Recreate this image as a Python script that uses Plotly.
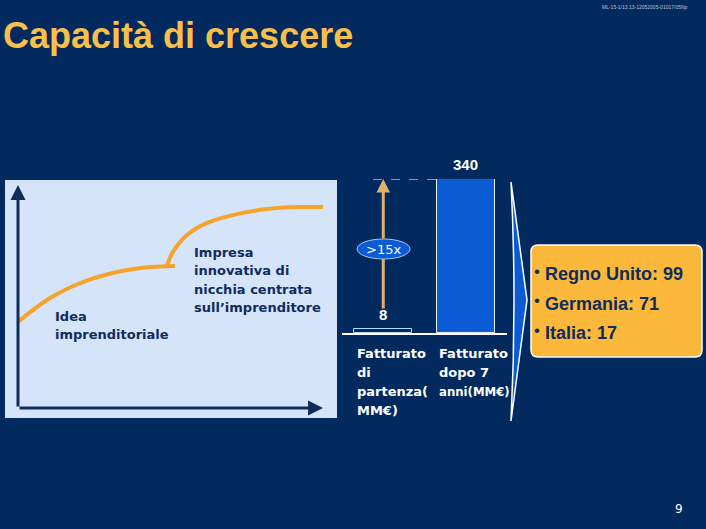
import plotly.graph_objects as go

W, H = 706, 529

# ---------------- data ----------------
bar_categories = ["partenza", "dopo 7 anni"]
bar_values = [8, 340]
bar_value_labels = ["8", "340"]
bar_axis_labels = ["Fatturato<br>di<br>partenza(<br>MM€)", "Fatturato<br>dopo 7<br>anni(MM€)"]
growth_label = ">15x"

curve1_x = [0, 10.5, 21.3, 32.5, 43.3, 51.5]
curve1_y = [38.6, 49.3, 56.5, 61.0, 63.2, 63.7]
curve2_x = [48.9, 50.8, 55.4, 62.0, 70.5, 81.6, 92.5, 100]
curve2_y = [64.1, 70.0, 77.6, 83.0, 86.5, 89.2, 90.1, 90.1]
stage_labels = [["Idea", "imprenditoriale"],
                ["Impresa", "innovativa di", "nicchia centrata", "sull\u2019imprenditore"]]

countries = ["Regno Unito", "Germania", "Italia"]
country_values = [99, 71, 17]

title_text = "Capacità di crescere"
doc_code = "ML-15-1/13.13-12052005-01017/05Np"
page_number = "9"

# ---------------- style ----------------
NAVY = "#022a5e"
PANEL = "#d6e4fa"
DARK = "#0e2c5c"
ORANGE = "#f5a32a"
BLUE = "#0b5bd5"
BOX = "#fbb83b"


def px(x):
    return x / W


def py(y):
    return 1 - y / H


fig = go.Figure()

# bars (middle)
fig.add_trace(go.Bar(
    x=[0, 1], y=bar_values, width=0.7,
    marker=dict(color=[NAVY, BLUE], line=dict(color=["#b8dcef", "#e8f0ff"], width=1)),
    xaxis="x", yaxis="y", showlegend=False, hoverinfo="skip",
))

# curves (left panel)
fig.add_trace(go.Scatter(x=curve1_x, y=curve1_y, mode="lines", line=dict(color=ORANGE, width=4, shape="spline"),
                         xaxis="x2", yaxis="y2", showlegend=False, hoverinfo="skip"))
fig.add_trace(go.Scatter(x=curve2_x, y=curve2_y, mode="lines", line=dict(color=ORANGE, width=4, shape="spline"),
                         xaxis="x2", yaxis="y2", showlegend=False, hoverinfo="skip"))

shapes = []
annotations = []

# left panel background
shapes.append(dict(type="rect", xref="paper", yref="paper", x0=px(5), x1=px(337), y0=py(418), y1=py(180),
                   fillcolor=PANEL, line=dict(width=0), layer="below"))

# panel axes arrows
annotations.append(dict(x=0, y=100, xref="x2", yref="y2", ax=0, ay=0, axref="x2", ayref="y2", text="",
                        showarrow=True, arrowhead=2, arrowsize=1, arrowwidth=3, arrowcolor=DARK))
annotations.append(dict(x=100, y=0, xref="x2", yref="y2", ax=0, ay=0, axref="x2", ayref="y2", text="",
                        showarrow=True, arrowhead=2, arrowsize=1, arrowwidth=3, arrowcolor=DARK))

# stage labels
stage_pos = [(53, 316), (192, 252)]
for lines, (sx, sy) in zip(stage_labels, stage_pos):
    for i, line in enumerate(lines):
        annotations.append(dict(x=px(sx), y=py(sy + i * 18.6), xref="paper", yref="paper", text=line,
                                showarrow=False, xanchor="left", yanchor="middle",
                                font=dict(family="DejaVu Sans", size=13, color=DARK, weight="bold")))

# bar value labels
for i, (v, lab) in enumerate(zip(bar_values, bar_value_labels)):
    annotations.append(dict(x=i, y=v, xref="x", yref="y", text=lab, showarrow=False, yanchor="bottom", yshift=4,
                            font=dict(family="Liberation Sans", size=15, color="white", weight="bold")))

# bar category labels
for i, lab in enumerate(bar_axis_labels):
    lines = lab.split("<br>")
    lx = [355, 437][i]
    for j, line in enumerate(lines):
        fam = "DejaVu Sans Condensed, DejaVu Sans" if (i == 1 and j == len(lines) - 1) else "DejaVu Sans"
        annotations.append(dict(x=px(lx), y=py(353 + j * 19), xref="paper", yref="paper", text=line,
                                showarrow=False, xanchor="left", yanchor="middle",
                                font=dict(family=fam, size=13, color="white", weight="bold")))

# dashed line at top of big bar
shapes.append(dict(type="line", xref="paper", yref="y", x0=px(373), x1=px(437), y0=bar_values[1], y1=bar_values[1],
                   line=dict(color="white", width=1, dash="dash")))

# growth arrow (split around ellipse)
annotations.append(dict(x=0, y=bar_values[1], xref="x", yref="y", ax=0, ay=61, text="", showarrow=True,
                        arrowhead=2, arrowsize=0.9, arrowwidth=3, arrowcolor="#e3b06a"))
annotations.append(dict(x=0, y=py(259), xref="x", yref="paper", ax=0, ay=51, text="", showarrow=True,
                        arrowhead=0, arrowwidth=3, arrowcolor="#e3b06a"))

# ellipse
shapes.append(dict(type="circle", xref="paper", yref="paper", x0=px(357), x1=px(410), y0=py(259), y1=py(239),
                   fillcolor=BLUE, line=dict(color="#a8c8f0", width=1), layer="above"))
annotations.append(dict(x=px(383.5), y=py(249), xref="paper", yref="paper", text=growth_label, showarrow=False,
                        font=dict(family="DejaVu Sans", size=13, color="white")))

# chevron
chev = (f"M {px(511)} {py(182)} L {px(527)} {py(300)} L {px(511)} {py(421)} "
        f"Q {px(517)} {py(300)} {px(511)} {py(182)} Z")
shapes.append(dict(type="path", xref="paper", yref="paper", path=chev, fillcolor=BLUE,
                   line=dict(color="white", width=1.5)))

# orange box with rounded corners
bx0, bx1, by0, by1, r = 531, 702, 245, 357, 7
box = (f"M {px(bx0 + r)} {py(by0)} L {px(bx1 - r)} {py(by0)} Q {px(bx1)} {py(by0)} {px(bx1)} {py(by0 + r)} "
       f"L {px(bx1)} {py(by1 - r)} Q {px(bx1)} {py(by1)} {px(bx1 - r)} {py(by1)} "
       f"L {px(bx0 + r)} {py(by1)} Q {px(bx0)} {py(by1)} {px(bx0)} {py(by1 - r)} "
       f"L {px(bx0)} {py(by0 + r)} Q {px(bx0)} {py(by0)} {px(bx0 + r)} {py(by0)} Z")
shapes.append(dict(type="path", xref="paper", yref="paper", path=box, fillcolor=BOX,
                   line=dict(color="white", width=1.5)))
for i, (c, v) in enumerate(zip(countries, country_values)):
    yc = 274 + i * 29.5
    annotations.append(dict(x=px(532), y=py(yc - 3), xref="paper", yref="paper", text="•", showarrow=False,
                            xanchor="left", yanchor="middle",
                            font=dict(family="Liberation Sans", size=17, color=DARK)))
    annotations.append(dict(x=px(543), y=py(yc), xref="paper", yref="paper", text=f"{c}: {v}", showarrow=False,
                            xanchor="left", yanchor="middle",
                            font=dict(family="Liberation Sans", size=18, color=DARK, weight="bold")))

# title, code, page number
annotations.append(dict(x=px(1), y=py(36), xref="paper", yref="paper", text=title_text, showarrow=False,
                        xanchor="left", yanchor="middle",
                        font=dict(family="Liberation Sans", size=36, color="#f8c04a", weight="bold")))
annotations.append(dict(x=px(690), y=py(7), xref="paper", yref="paper", text=doc_code, showarrow=False,
                        xanchor="right", yanchor="middle",
                        font=dict(family="Liberation Sans", size=5, color="#b8c2d6")))
annotations.append(dict(x=px(685), y=py(518), xref="paper", yref="paper", text=page_number, showarrow=False,
                        font=dict(family="DejaVu Sans", size=12, color="white")))

fig.update_layout(
    width=W, height=H, autosize=False,
    margin=dict(l=0, r=0, t=0, b=0),
    paper_bgcolor=NAVY, plot_bgcolor="rgba(0,0,0,0)",
    bargap=0,
    xaxis=dict(domain=[px(342), px(507)], range=[-0.5, 1.5], showticklabels=False, showgrid=False,
               zeroline=False, showline=True, linecolor="white", linewidth=2, ticks="", fixedrange=True),
    yaxis=dict(domain=[py(333), py(179)], range=[0, 340], visible=False, fixedrange=True),
    xaxis2=dict(domain=[px(18), px(323)], range=[0, 100], visible=False, anchor="y2"),
    yaxis2=dict(domain=[py(408), py(185)], range=[0, 100], visible=False, anchor="x2"),
    shapes=shapes,
    annotations=annotations,
)

fig.write_html("out.html", config={"displayModeBar": False},
               post_script="document.body.style.margin='0';document.body.style.background='" + NAVY + "';")
